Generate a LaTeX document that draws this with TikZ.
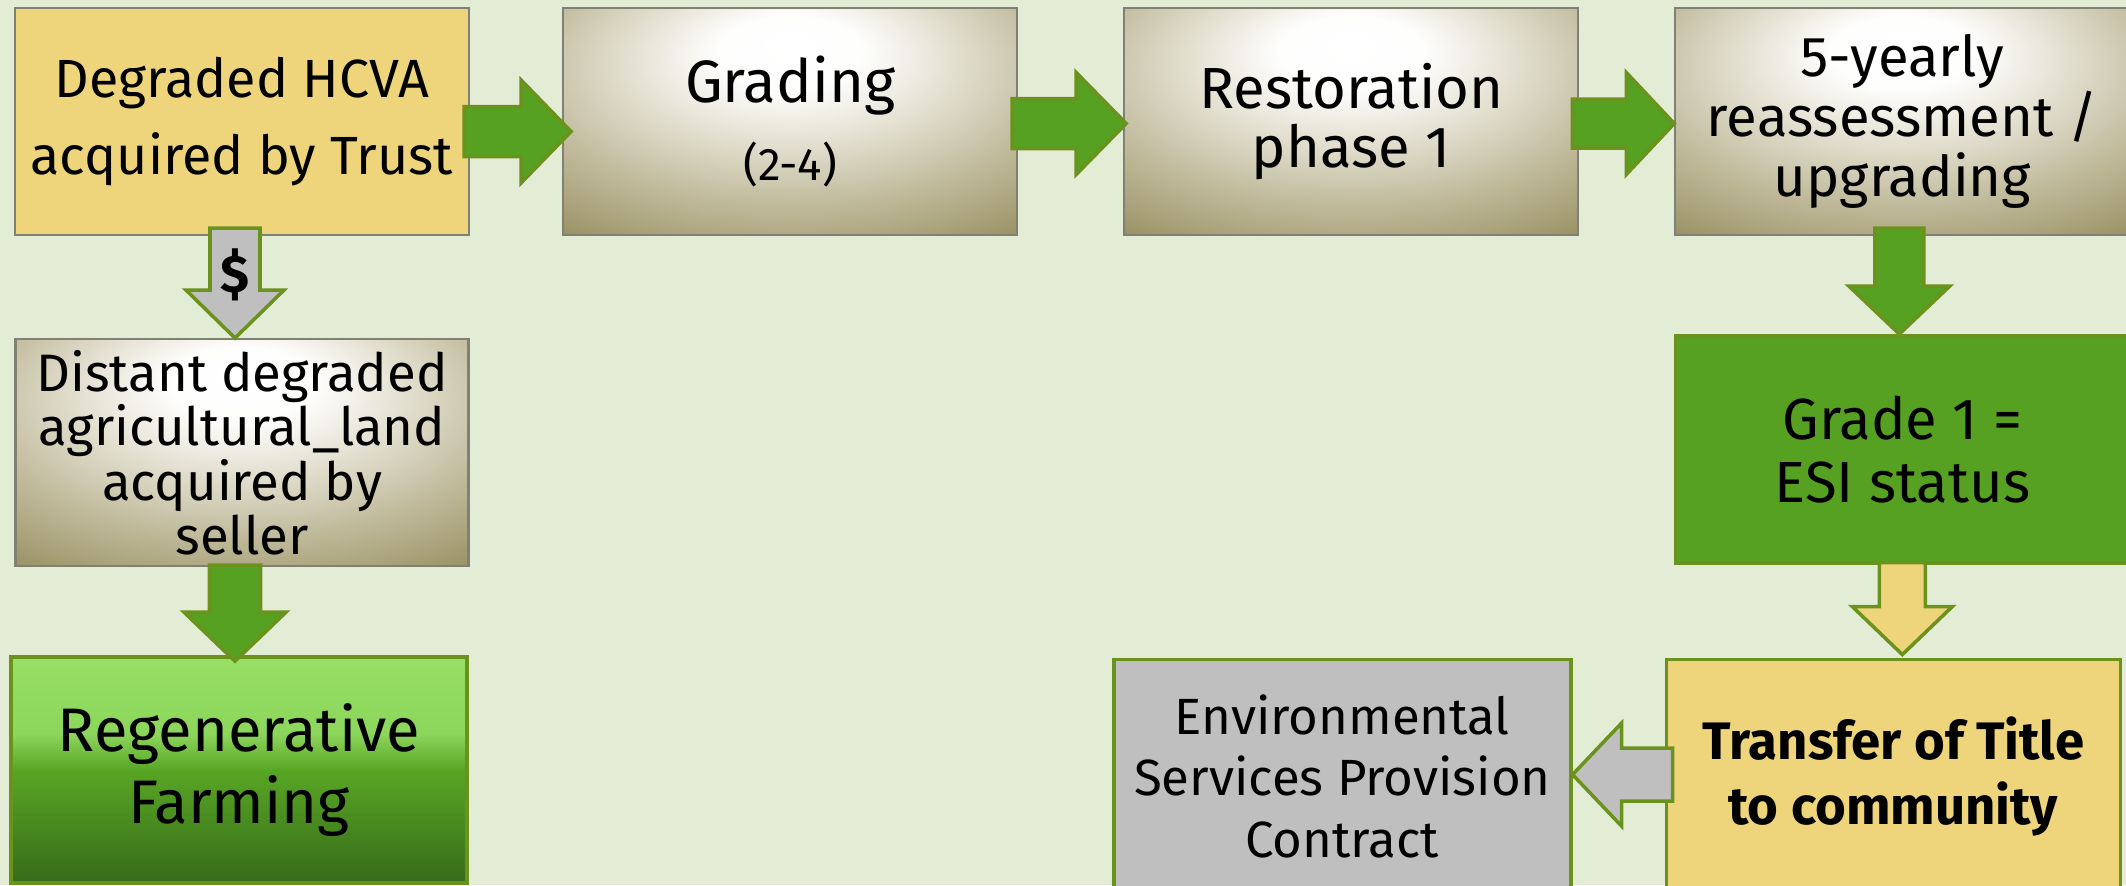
\documentclass[tikz,border=0pt]{standalone}
\usepackage{fontspec}
\setmainfont{Fira Sans}
\usepackage{tikz}
\usetikzlibrary{positioning,calc}
\definecolor{bgtone}{RGB}{227,237,214}
\definecolor{sandfill}{RGB}{238,212,122}
\definecolor{leaf}{RGB}{86,160,34}
\definecolor{leafedge}{RGB}{108,146,30}
\definecolor{stone}{RGB}{191,191,191}
\definecolor{framegray}{RGB}{128,128,116}
\definecolor{olivedark}{RGB}{140,132,82}
\definecolor{olivemid}{RGB}{190,184,152}
\definecolor{olivelight}{RGB}{230,227,213}
\definecolor{regentop}{RGB}{151,224,101}
\definecolor{regenlow}{RGB}{140,214,92}
\definecolor{regenmid}{RGB}{88,166,37}
\definecolor{regenbot}{RGB}{55,107,25}

\pgfdeclareradialshading{oliveglow}{\pgfpoint{0bp}{17bp}}{%
  color(0bp)=(white); color(8bp)=(white!95!olivelight); color(17bp)=(olivelight);
  color(30bp)=(olivemid); color(42bp)=(olivedark!75!olivemid); color(50bp)=(olivedark); color(80bp)=(olivedark)}
\pgfdeclareverticalshading{regenfade}{100bp}{%
  color(0bp)=(regenbot); color(25bp)=(regenbot); color(50bp)=(regenmid);
  color(58bp)=(regenlow); color(75bp)=(regentop); color(100bp)=(regentop)}

% block arrow: style, from, tip, half shaft, half head, head length
\newcommand{\blockarrow}[6]{%
  \coordinate (bas) at (#2);
  \coordinate (bat) at (#3);
  \coordinate (bah) at ($(bat)!#6!(bas)$);
  \draw[#1] ($(bas)!#4!90:(bat)$) -- ($(bah)!#4!90:(bat)$) -- ($(bah)!#5!90:(bat)$) -- (bat)
    -- ($(bah)!#5!-90:(bat)$) -- ($(bah)!#4!-90:(bat)$) -- ($(bas)!#4!-90:(bat)$) -- cycle;
}

\begin{document}
\begin{tikzpicture}[
    box/.style={rectangle, minimum width=4.54cm, minimum height=2.27cm, align=center, inner sep=2pt},
    olivebox/.style={box, draw=framegray, line width=0.6pt, shade, shading=oliveglow},
    sandbox/.style={box, fill=sandfill},
    greenarrow/.style={fill=leaf, draw=leafedge, line width=1pt, line join=miter},
    stonearrow/.style={fill=stone, draw=leafedge, line width=1pt, line join=miter},
    sandarrow/.style={fill=sandfill, draw=leafedge, line width=1pt, line join=miter}
]
    % background
    \fill[bgtone] (0,0) rectangle (21.26,-8.85);
    \useasboundingbox (0,0) rectangle (21.26,-8.85);

    % Top row
    \node[sandbox, draw=framegray, line width=0.6pt, font=\fontsize{15.3}{22}\selectfont] (deg) at (2.42,-1.215) {Degraded HCVA\\acquired by Trust};
    \node[olivebox, right=0.92cm of deg, font=\fontsize{17}{22}\selectfont] (grading) {Grading\\{\fontsize{13}{22}\selectfont(2-4)}};
    \node[olivebox, right=1.05cm of grading, font=\fontsize{16.5}{17}\selectfont] (restore) {Restoration\\phase 1};
    \node[olivebox, right=0.95cm of restore, font=\fontsize{16}{17}\selectfont] (reassess) {5-yearly\\reassessment~/\\upgrading};

    % Right column and bottom row
    \node[box, fill=leaf, draw=leafedge, line width=1pt, below=0.98cm of reassess, font=\fontsize{16.5}{18}\selectfont] (esi) {Grade 1 =\\ESI status};
    \node[sandbox, draw=leafedge, line width=1pt, minimum height=2.34cm, below=0.93cm of esi, xshift=-0.09cm, font=\bfseries\fontsize{15}{18.5}\selectfont] (title) {Transfer of Title\\to community};
    \node[box, fill=stone, draw=leafedge, line width=1pt, minimum width=4.57cm, minimum height=2.34cm, left=0.92cm of title, font=\fontsize{14.5}{17.4}\selectfont] (contract) {Environmental\\Services Provision\\Contract};

    % Left column
    \node[olivebox, minimum width=4.53cm, below=1.02cm of deg, font=\fontsize{15}{15.5}\selectfont] (distant) {Distant degraded\\agricultural\_land\\acquired by\\seller};
    \node[box, draw=leafedge, line width=1pt, shade, shading=regenfade, minimum width=4.56cm, minimum height=2.26cm, below=0.88cm of distant, xshift=-0.03cm, font=\fontsize{17.5}{20.5}\selectfont] (regen) {Regenerative\\Farming};

    % Arrows
    \blockarrow{greenarrow}{[xshift=-0.06cm,yshift=-0.1cm]deg.east}{[xshift=0.09cm,yshift=-0.1cm]grading.west}{0.25cm}{0.515cm}{0.5cm}
    \blockarrow{greenarrow}{[xshift=-0.06cm,yshift=-0.02cm]grading.east}{[xshift=0.03cm,yshift=-0.02cm]restore.west}{0.25cm}{0.51cm}{0.5cm}
    \blockarrow{greenarrow}{[xshift=-0.07cm,yshift=-0.02cm]restore.east}{[yshift=-0.02cm]reassess.west}{0.245cm}{0.51cm}{0.48cm}
    \blockarrow{stonearrow}{[xshift=-0.07cm,yshift=0.08cm]deg.south}{[xshift=-0.07cm]distant.north}{0.25cm}{0.49cm}{0.48cm}
    \node[font=\bfseries\fontsize{15}{18}\selectfont] (cash) at ([xshift=-0.07cm,yshift=-0.39cm]deg.south) {\$};
    \blockarrow{greenarrow}{[xshift=-0.07cm,yshift=0.02cm]distant.south}{[xshift=-0.04cm,yshift=-0.06cm]regen.north}{0.255cm}{0.51cm}{0.49cm}
    \blockarrow{greenarrow}{[xshift=-0.03cm,yshift=0.08cm]reassess.south}{[xshift=-0.03cm]esi.north}{0.245cm}{0.505cm}{0.48cm}
    \blockarrow{sandarrow}{[yshift=0.02cm]esi.south}{[xshift=0.09cm,yshift=0.03cm]title.north}{0.23cm}{0.5cm}{0.48cm}
    \blockarrow{stonearrow}{[xshift=0.08cm,yshift=-1.17cm]title.north west}{[yshift=-1.17cm]contract.north east}{0.265cm}{0.515cm}{0.49cm}
\end{tikzpicture}
\end{document}
